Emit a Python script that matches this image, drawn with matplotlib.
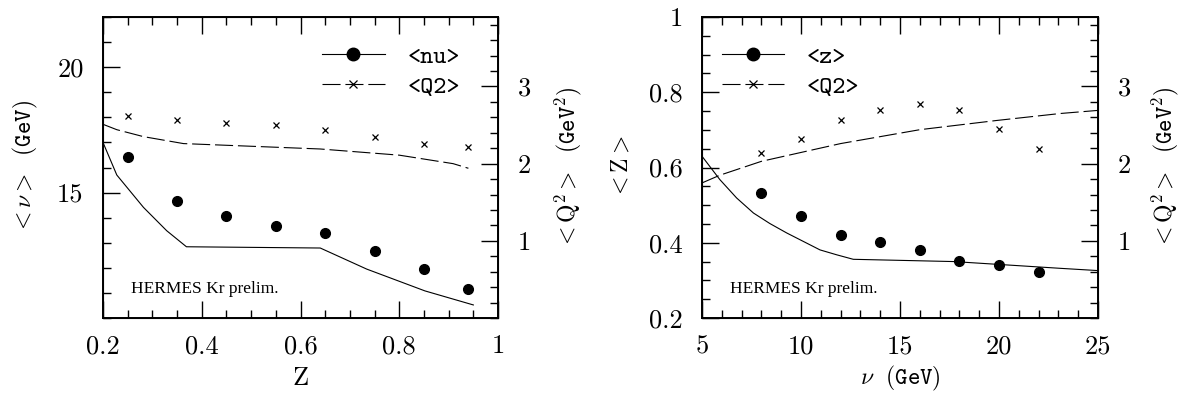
import matplotlib
matplotlib.use("Agg")
import matplotlib.pyplot as plt
from matplotlib.lines import Line2D
from matplotlib.ticker import MultipleLocator, FixedLocator, FuncFormatter

plt.rcParams['font.family'] = 'cmr10'
plt.rcParams['mathtext.fontset'] = 'cm'
plt.rcParams['axes.formatter.use_mathtext'] = True
plt.rcParams['lines.scale_dashes'] = False

# left panel: vs z
z_bins = [0.25, 0.35, 0.45, 0.55, 0.65, 0.75, 0.85, 0.94]
nu_mean = [16.4, 14.68, 14.08, 13.68, 13.39, 12.68, 11.97, 11.17]
q2_vs_z = [2.62, 2.56, 2.53, 2.50, 2.44, 2.35, 2.25, 2.22]
nu_model_z = [0.2, 0.228, 0.282, 0.329, 0.369, 0.64, 0.734, 0.852, 0.95]
nu_model = [17.0, 15.7, 14.41, 13.48, 12.84, 12.79, 11.95, 11.08, 10.52]
q2_model_z = [0.2, 0.228, 0.282, 0.363, 0.64, 0.80, 0.909, 0.94]
q2_model_l = [2.51, 2.44, 2.35, 2.26, 2.19, 2.11, 2.00, 1.94]

# right panel: vs nu
nu_bins = [8, 10, 12, 14, 16, 18, 20, 22]
z_mean = [0.533, 0.472, 0.421, 0.402, 0.381, 0.352, 0.341, 0.321]
q2_vs_nu = [2.14, 2.32, 2.57, 2.70, 2.77, 2.70, 2.45, 2.19]
z_model_nu = [5, 5.9, 6.75, 7.6, 8.43, 9.28, 10.96, 11.8, 12.64, 17.7, 23.1, 25]
z_model = [0.630, 0.568, 0.519, 0.479, 0.451, 0.426, 0.381, 0.368, 0.356, 0.350, 0.332, 0.326]
q2_model_nu = [5, 5.9, 8, 12, 16, 19.9, 23.1, 25]
q2_model_r = [1.75, 1.85, 2.03, 2.26, 2.44, 2.56, 2.65, 2.69]

DASH = (13, 3.5)
LW = 0.8
TICK_FS = 19
fmt = FuncFormatter(lambda v, p: '%g' % v)


def style(ax, twin):
    ax.tick_params(which='both', direction='in', top=True, right=False,
                   labelsize=TICK_FS, width=1.0)
    ax.tick_params(which='major', length=12, pad=12)
    ax.tick_params(which='minor', length=6)
    ax.tick_params(axis='y', which='major', pad=14)
    twin.tick_params(which='both', direction='in', labelsize=TICK_FS, width=1.0)
    twin.tick_params(which='major', length=12, pad=14)
    twin.tick_params(which='minor', length=6)
    for s in ax.spines.values():
        s.set_linewidth(1.4)
    twin.set_ylim(0, 3.9)
    twin.yaxis.set_major_locator(FixedLocator([1, 2, 3]))
    twin.yaxis.set_minor_locator(MultipleLocator(0.2))
    twin.yaxis.set_major_formatter(fmt)
    ax.xaxis.set_major_formatter(fmt)
    ax.yaxis.set_major_formatter(fmt)


def legend_handles():
    h1 = Line2D([], [], color='k', lw=LW, marker='o', ms=9)
    h2 = Line2D([], [], color='k', lw=LW, marker='x', ms=6, mew=0.9, dashes=DASH)
    return h1, h2


fig = plt.figure(figsize=(11.81, 3.96), dpi=100)
ax1 = fig.add_axes([0.0872, 0.197, 0.3345, 0.760])
ax2 = fig.add_axes([0.5944, 0.197, 0.3353, 0.760])
tw1 = ax1.twinx()
tw2 = ax2.twinx()

# ---- left
ax1.plot(nu_model_z, nu_model, color='k', lw=LW)
ax1.plot(z_bins, nu_mean, 'ko', ms=7)
tw1.plot(q2_model_z, q2_model_l, color='k', lw=LW, dashes=DASH)
tw1.plot(z_bins, q2_vs_z, 'kx', ms=5, mew=0.9)
ax1.set_xlim(0.2, 1.0)
ax1.set_ylim(10, 22)
ax1.xaxis.set_major_locator(MultipleLocator(0.2))
ax1.xaxis.set_minor_locator(MultipleLocator(0.05))
ax1.yaxis.set_major_locator(FixedLocator([15, 20]))
ax1.yaxis.set_minor_locator(MultipleLocator(1))
ax1.set_xlabel('Z', fontsize=19, labelpad=6)
ax1.set_ylabel(r'$<\nu>\ \ \mathtt{(GeV)}$', fontsize=17, labelpad=12)
ax1.text(0.07, 0.095, 'HERMES Kr prelim.', transform=ax1.transAxes,
         family='Liberation Serif', fontsize=12.5, va='center')
style(ax1, tw1)
tw1.set_ylabel(r'$<\mathrm{Q}^2>\ \ \mathtt{(GeV^2)}$', fontsize=17, labelpad=16)
h1, h2 = legend_handles()
ax1.legend([h1, h2], ['<nu>', '<Q2>'], loc='upper left', bbox_to_anchor=(0.555, 0.905),
           frameon=False, prop={'family': 'cmtt10', 'size': 18}, handlelength=2.5,
           handletextpad=0.9, labelspacing=0.25, borderpad=0, borderaxespad=0)

# ---- right
ax2.plot(z_model_nu, z_model, color='k', lw=LW)
ax2.plot(nu_bins, z_mean, 'ko', ms=7)
tw2.plot(q2_model_nu, q2_model_r, color='k', lw=LW, dashes=DASH)
tw2.plot(nu_bins, q2_vs_nu, 'kx', ms=5, mew=0.9)
ax2.set_xlim(5, 25)
ax2.set_ylim(0.2, 1.0)
ax2.xaxis.set_major_locator(MultipleLocator(5))
ax2.xaxis.set_minor_locator(MultipleLocator(1))
ax2.yaxis.set_major_locator(MultipleLocator(0.2))
ax2.yaxis.set_minor_locator(MultipleLocator(0.05))
ax2.set_xlabel(r'$\nu\ \ \mathtt{(GeV)}$', fontsize=17, labelpad=4)
ax2.set_ylabel(r'$<\mathrm{Z}>$', fontsize=17, labelpad=12)
ax2.text(0.07, 0.095, 'HERMES Kr prelim.', transform=ax2.transAxes,
         family='Liberation Serif', fontsize=12.5, va='center')
style(ax2, tw2)
tw2.set_ylabel(r'$<\mathrm{Q}^2>\ \ \mathtt{(GeV^2)}$', fontsize=17, labelpad=14)
h1, h2 = legend_handles()
ax2.legend([h1, h2], ['<z>', '<Q2>'], loc='upper left', bbox_to_anchor=(0.05, 0.905),
           frameon=False, prop={'family': 'cmtt10', 'size': 18}, handlelength=2.5,
           handletextpad=0.9, labelspacing=0.25, borderpad=0, borderaxespad=0)

fig.savefig('out.png', dpi=100)
